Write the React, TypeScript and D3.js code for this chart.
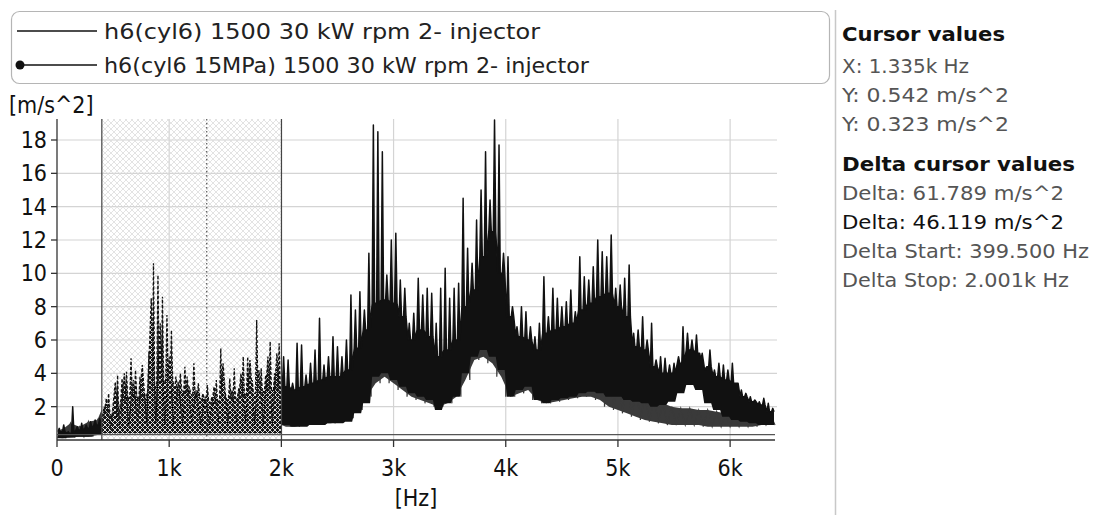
import * as d3 from "d3";
import { useEffect, useRef } from "react";

// spectrum, h6(cyl6): peaks per 40 Hz bin (m/s^2)
const peaksA = [
  0.7, 0.9, 0.5, 2.0, 0.8, 1.0, 0.9, 1.1, 1.2, 1.3,
  2.0, 2.8, 1.6, 3.9, 3.7, 4.1, 4.9, 4.2, 3.8, 2.8,
  5.3, 10.6, 9.9, 8.6, 7.5, 6.6, 3.8, 4.0, 4.4, 3.2,
  4.6, 3.4, 2.8, 3.3, 2.6, 3.6, 5.5, 2.8, 3.7, 4.3,
  3.1, 5.0, 5.0, 3.6, 7.2, 4.3, 3.9, 5.9, 4.0, 5.8,
  5.0, 4.8, 3.4, 5.8, 5.7, 3.9, 4.6, 5.4, 7.3, 4.5,
  5.0, 6.2, 5.6, 5.0, 6.0, 8.7, 7.8, 8.9, 7.8, 11.2,
  18.9, 18.5, 17.3, 9.9, 12.0, 12.4, 9.6, 9.1, 7.0, 7.6,
  9.7, 8.7, 9.1, 8.8, 7.0, 9.1, 10.3, 8.5, 9.1, 9.4,
  14.5, 11.5, 10.6, 13.2, 15.0, 17.3, 14.4, 19.2, 17.7, 11.2,
  11.0, 8.0, 6.8, 8.0, 7.7, 6.8, 6.2, 7.0, 9.8, 7.4,
  9.1, 8.5, 8.0, 8.3, 9.0, 7.7, 11.0, 9.8, 9.6, 10.4,
  12.0, 11.3, 11.0, 12.3, 9.1, 9.3, 9.7, 10.5, 6.4, 6.6,
  7.4, 6.0, 7.0, 4.8, 5.0, 4.9, 4.5, 4.6, 5.0, 6.8,
  6.4, 6.0, 6.3, 4.8, 4.2, 5.4, 4.2, 4.6, 4.5, 4.2,
  4.6, 3.4, 3.0, 2.8, 2.6, 2.4, 2.3, 2.5, 2.2, 1.9,
];
// h6(cyl6): typical level between spikes, per 80 Hz
const midA = [
  0.5, 0.4, 0.6, 0.7, 0.9,
  1.6, 1.4, 2.4, 2.6, 2.4, 3.0, 3.4, 3.6, 3.0, 2.8, 2.6, 2.4, 2.2, 2.4, 2.5, 2.6, 2.8, 2.8, 3.0, 3.0,
  3.2, 3.0, 3.2, 3.4, 3.6, 3.8, 3.8, 4.2, 5.5, 6.6,
  8.2, 8.4, 8.2, 7.4, 6.0, 6.6, 6.2,
  5.0, 5.4, 6.0, 8.0, 9.0, 11.0, 12.5, 10.0, 7.4, 6.2, 6.0, 5.4, 6.4, 6.6, 6.8, 7.0, 7.8, 8.2, 8.6, 8.8,
  8.0, 7.4, 5.6, 5.4, 4.4, 4.0, 4.0, 4.6, 5.4, 5.2, 4.4, 3.8, 3.6, 3.4, 2.6, 2.3, 2.1, 1.7,
];
// h6(cyl6): lower envelope, per 80 Hz
const floorsA = [
  0.1, 0.15, 0.2, 0.2, 0.3,
  0.6, 0.8, 1.0, 1.1, 1.2, 1.2, 1.3, 1.3, 1.2, 1.1, 1.2, 1.1, 1.0, 1.2, 1.1, 1.2, 1.2, 1.1, 1.2, 1.1,
  0.9, 0.8, 0.8, 0.9, 0.9, 1.0, 1.0, 1.1, 1.6, 2.2,
  3.8, 4.0, 3.6, 3.2, 2.8, 2.6, 2.4,
  1.8, 2.2, 2.6, 4.0, 5.0, 5.4, 5.0, 4.2, 2.6, 3.0, 3.2, 2.4, 2.2, 2.4, 2.5, 2.6, 2.8, 2.9, 2.8, 2.6,
  2.6, 2.4, 2.3, 2.2, 2.0, 2.1, 2.3, 2.8, 3.3, 3.0, 2.2, 1.8, 1.4, 1.2, 1.1, 1.0, 0.9, 0.9,
];

// spectrum, h6(cyl6 15MPa): upper and lower envelope per 80 Hz bin
const peaksB = [
  0.6, 1.0, 0.8, 1.1, 1.2,
  2.5, 3.5, 4.0, 3.6, 4.5, 8.5, 7.0, 5.0, 3.5, 3.8, 3.0, 2.6, 3.2, 4.6, 3.0, 4.0, 4.8, 4.2, 5.0, 5.2,
  3.0, 3.0, 3.2, 3.3, 3.4, 3.6, 3.6, 4.0, 5.0, 6.0,
  7.5, 8.0, 7.5, 7.0, 5.5, 6.0, 5.8,
  4.8, 5.0, 5.6, 7.5, 8.5, 10.0, 11.0, 9.0, 7.0, 5.8, 5.5, 5.0, 5.8, 6.0, 6.2, 6.4, 6.0,
  5.2, 5.0, 4.6, 3.8, 3.4, 2.9, 2.6, 2.4, 2.2, 2.0, 1.9, 1.9, 1.8, 1.8, 1.7, 1.6, 1.6, 1.6, 1.6, 1.6, 1.5,
];
const floorsB = [
  0.1, 0.15, 0.2, 0.2, 0.3,
  0.6, 0.7, 0.8, 0.9, 1.0, 1.1, 1.0, 0.9, 1.0, 1.1, 1.0, 0.9, 1.0, 1.1, 1.0, 1.1, 1.0, 0.9, 1.0, 1.0,
  0.8, 0.8, 0.9, 0.9, 1.0, 1.0, 1.1, 1.3, 1.8, 2.6,
  3.4, 3.8, 3.4, 3.0, 2.6, 2.4, 2.2,
  2.0, 2.2, 2.6, 3.6, 4.8, 5.0, 4.6, 3.8, 2.6, 2.8, 3.0, 2.4, 2.2, 2.3, 2.4, 2.5, 2.6,
  2.6, 2.4, 2.0, 1.8, 1.6, 1.4, 1.2, 1.1, 1.0, 0.9, 0.9, 0.9, 0.9, 0.8, 0.8, 0.8, 0.8, 0.8, 0.8, 0.9, 0.9,
];

const xTicks = [0, 1000, 2000, 3000, 4000, 5000, 6000];
const xTickLabels = ["0", "1k", "2k", "3k", "4k", "5k", "6k"];
const yTicks = [2, 4, 6, 8, 10, 12, 14, 16, 18];

const deltaStart = 399.5;
const deltaStop = 2001;
const cursorX = 1335;
const cursorY = 0.323;

const legendLabels = [
  "h6(cyl6) 1500 30 kW rpm 2- injector",
  "h6(cyl6 15MPa) 1500 30 kW rpm 2- injector",
];

const panelLines = [
  "Cursor values",
  "X: 1.335k Hz",
  "Y: 0.542 m/s^2",
  "Y: 0.323 m/s^2",
  "Delta cursor values",
  "Delta: 61.789 m/s^2",
  "Delta: 46.119 m/s^2",
  "Delta Start: 399.500 Hz",
  "Delta Stop: 2.001k Hz",
];

const FONT = "'DejaVu Sans Condensed', 'DejaVu Sans', sans-serif";

type Pt = [number, number, number]; // freq, value, floor under it

// builds the spikes of a dense spectrum: rise from the trough level to the bin's peak and back
const spikes = (
  peaks: number[],
  troughs: number[],
  floors: number[],
  step: number,
  coarse: number,
  width: number
) => {
  const pts: Pt[] = [];
  const a = (1 - width) / 2;
  peaks.forEach((p, j) => {
    const f0 = j * step;
    const k = Math.floor(f0 / coarse);
    pts.push([f0 + step * a, troughs[k], floors[k]]);
    pts.push([f0 + step * 0.5, p, floors[k]]);
    pts.push([f0 + step * (1 - a), troughs[k], floors[k]]);
  });
  return pts;
};

export default function App() {
  const ref = useRef<SVGSVGElement>(null);

  useEffect(() => {
    const svg = d3.select(ref.current);
    svg.selectAll("*").remove();

    const x = d3.scaleLinear().domain([0, 6400]).range([57, 775]);
    const y = d3.scaleLinear().domain([0, 19.26]).range([440, 119]);
    const top = 119;
    const bottom = 440;

    const defs = svg.append("defs");
    const bg = defs
      .append("pattern")
      .attr("id", "bgHatch")
      .attr("patternUnits", "userSpaceOnUse")
      .attr("width", 6)
      .attr("height", 6);
    bg.append("path")
      .attr("d", "M0,0L6,6M6,0L0,6")
      .attr("stroke", "#dcdcdc")
      .attr("stroke-width", 0.8);

    const dark = defs
      .append("pattern")
      .attr("id", "darkHatch")
      .attr("patternUnits", "userSpaceOnUse")
      .attr("width", 5)
      .attr("height", 5);
    dark.append("rect").attr("width", 5).attr("height", 5).attr("fill", "#141414");
    dark.append("path")
      .attr("d", "M0,0L5,5M5,0L0,5")
      .attr("stroke", "#f0f0f0")
      .attr("stroke-width", 0.9);

    defs.append("clipPath").attr("id", "inDelta")
      .append("rect")
      .attr("x", x(deltaStart)).attr("y", top)
      .attr("width", x(deltaStop) - x(deltaStart)).attr("height", bottom - top);
    const outside = defs.append("clipPath").attr("id", "outDelta");
    outside.append("rect").attr("x", 57).attr("y", top - 20)
      .attr("width", x(deltaStart) - 57).attr("height", bottom - top + 20);
    outside.append("rect").attr("x", x(deltaStop)).attr("y", top - 20)
      .attr("width", 776 - x(deltaStop)).attr("height", bottom - top + 20);

    // grid
    const grid = svg.append("g").attr("stroke", "#d4d4d4").attr("stroke-width", 1.2);
    yTicks.forEach((t) => {
      grid.append("line").attr("x1", 57).attr("x2", 777).attr("y1", y(t)).attr("y2", y(t));
    });
    xTicks.slice(1).forEach((t) => {
      grid.append("line").attr("x1", x(t)).attr("x2", x(t)).attr("y1", top).attr("y2", bottom);
    });

    // delta background
    svg.append("rect")
      .attr("x", x(deltaStart)).attr("y", top)
      .attr("width", x(deltaStop) - x(deltaStart)).attr("height", bottom - top)
      .attr("fill", "url(#bgHatch)");

    const ptsA = spikes(peaksA, midA, floorsA, 40, 80, 0.55);
    const ptsB = spikes(peaksB, floorsB, floorsB, 80, 80, 1);
    const bandB: Pt[] = peaksB.map((p, k) => [k * 80 + 40, p, floorsB[k]]);

    const line = d3.line<Pt>().x((d) => x(d[0])).y((d) => y(d[1]));
    const mass = d3.area<Pt>().x((d) => x(d[0])).y0((d) => y(d[2])).y1((d) => y(d[1]));
    const under = d3.area<Pt>().x((d) => x(d[0])).y0(y(0.4)).y1((d) => y(d[1]));

    const outG = svg.append("g").attr("clip-path", "url(#outDelta)");
    // 15MPa: dark grey band between its envelopes
    outG.append("path").attr("d", mass(bandB)).attr("fill", "#3a3a3a");
    outG.append("path")
      .attr("d", line(ptsB))
      .attr("fill", "none")
      .attr("stroke", "#3a3a3a")
      .attr("stroke-width", 1.2);
    // cyl6: black spikes
    outG.append("path").attr("d", mass(ptsA)).attr("fill", "#111");
    outG.append("path")
      .attr("d", line(ptsA))
      .attr("fill", "none")
      .attr("stroke", "#111")
      .attr("stroke-width", 1.5)
      .attr("stroke-linejoin", "round");

    const inG = svg.append("g").attr("clip-path", "url(#inDelta)");
    [ptsB, ptsA].forEach((pts) => {
      inG.append("path").attr("d", under(pts)).attr("fill", "url(#darkHatch)");
    });
    [ptsB, ptsA].forEach((pts) => {
      inG.append("path")
        .attr("d", line(pts))
        .attr("fill", "none")
        .attr("stroke", "#111")
        .attr("stroke-width", 1.3)
        .attr("stroke-dasharray", "3 2");
    });

    // cursor lines
    [deltaStart, deltaStop].forEach((f) => {
      svg.append("line")
        .attr("x1", x(f)).attr("x2", x(f)).attr("y1", top).attr("y2", bottom)
        .attr("stroke", "#444").attr("stroke-width", 1.2);
    });
    svg.append("line")
      .attr("x1", x(cursorX)).attr("x2", x(cursorX)).attr("y1", top).attr("y2", bottom)
      .attr("stroke", "#333").attr("stroke-width", 1).attr("stroke-dasharray", "1.5 2.5");
    svg.append("line")
      .attr("x1", 57).attr("x2", 775).attr("y1", y(cursorY)).attr("y2", y(cursorY))
      .attr("stroke", "#555").attr("stroke-width", 1.2);

    // axes
    const axes = svg.append("g").attr("stroke", "#333").attr("stroke-width", 1.3);
    axes.append("line").attr("x1", 57).attr("x2", 57).attr("y1", top).attr("y2", bottom);
    axes.append("line").attr("x1", 57).attr("x2", 775).attr("y1", bottom).attr("y2", bottom);
    yTicks.forEach((t) => {
      axes.append("line").attr("x1", 51).attr("x2", 57).attr("y1", y(t)).attr("y2", y(t));
    });
    xTicks.forEach((t) => {
      axes.append("line").attr("x1", x(t)).attr("x2", x(t)).attr("y1", bottom).attr("y2", bottom + 7);
    });

    const labels = svg.append("g").attr("font-family", FONT).attr("fill", "#111");
    yTicks.forEach((t) => {
      labels.append("text")
        .attr("x", 47).attr("y", y(t) + 8)
        .attr("text-anchor", "end").attr("font-size", 23)
        .text(t);
    });
    xTicks.forEach((t, i) => {
      labels.append("text")
        .attr("x", x(t)).attr("y", 476)
        .attr("text-anchor", "middle").attr("font-size", 23)
        .text(xTickLabels[i]);
    });
    labels.append("text")
      .attr("x", x(3200)).attr("y", 506)
      .attr("text-anchor", "middle").attr("font-size", 23)
      .text("[Hz]");
    labels.append("text")
      .attr("x", 9).attr("y", 113).attr("font-size", 23)
      .text("[m/s^2]");

    // legend
    svg.append("rect")
      .attr("x", 11.5).attr("y", 11.5).attr("width", 818).attr("height", 72).attr("rx", 8)
      .attr("fill", "none").attr("stroke", "#b5b5b5").attr("stroke-width", 1.2);
    const legendWidths = [436, 485];
    legendLabels.forEach((label, i) => {
      const ly = 31 + i * 34;
      svg.append("line")
        .attr("x1", 17).attr("x2", 97).attr("y1", ly).attr("y2", ly)
        .attr("stroke", "#111").attr("stroke-width", 1.3);
      if (i === 1) svg.append("circle").attr("cx", 20).attr("cy", ly).attr("r", 4.5).attr("fill", "#111");
      svg.append("text")
        .attr("x", 104).attr("y", ly + 8)
        .attr("font-family", FONT).attr("font-size", 22).attr("fill", "#222")
        .attr("textLength", legendWidths[i]).attr("lengthAdjust", "spacingAndGlyphs")
        .text(label);
    });

    // side panel
    svg.append("line")
      .attr("x1", 835.5).attr("x2", 835.5).attr("y1", 10).attr("y2", 515)
      .attr("stroke", "#c8c8c8").attr("stroke-width", 1.5);
    const panelWidths = [163, 127, 167, 167, 233, 222, 222, 247, 227];
    const panelY = [41, 73, 102, 131, 171, 200, 229, 258, 287];
    panelLines.forEach((t, i) => {
      const bold = i === 0 || i === 4;
      svg.append("text")
        .attr("x", 842).attr("y", panelY[i])
        .attr("font-family", FONT).attr("font-size", 20)
        .attr("font-weight", bold ? 700 : 400)
        .attr("fill", bold || i === 6 ? "#111" : "#555")
        .attr("textLength", panelWidths[i]).attr("lengthAdjust", "spacingAndGlyphs")
        .text(t);
    });
  }, []);

  return (
    <svg
      ref={ref}
      width={1099}
      height={515}
      style={{ position: "absolute", left: 0, top: 0, background: "#fff" }}
    />
  );
}
